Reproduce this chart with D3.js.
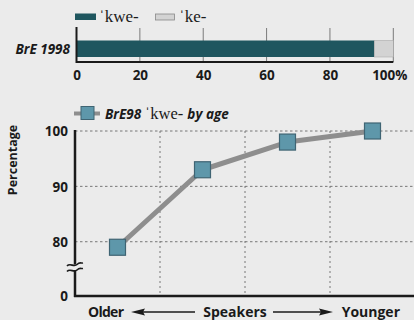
<!DOCTYPE html>
<html><head><meta charset="utf-8">
<script src="https://cdn.jsdelivr.net/npm/d3@7"></script>
<style>
html,body{margin:0;padding:0;background:#ebebeb;}
svg{display:block;}
.sans{font-family:"Open Sans","Noto Sans",sans-serif;font-weight:700;fill:#1a1a1a;}
.serif{font-family:"Liberation Serif","DejaVu Serif",serif;fill:#1a1a1a;}
</style></head>
<body>
<svg id="c" width="414" height="320"></svg>
<script>
// ---- data ----
const barCategories = ["BrE 1998"];
const kweShare = [94];
const keShare = [6];
const barTicks = [0, 20, 40, 60, 80, 100];

const ageGroups = ["Oldest", "Older", "Younger", "Youngest"];
const kweByAge = [79, 93, 98, 100];
const lineTicks = [0, 80, 90, 100];

const legendTop = ["ˈkwe-", "ˈke-"];
const lineSeriesName = "BrE98";

// ---- drawing ----
const svg = d3.select("#c");
const dark = "#1f565f", light = "#d3d3d3", ink = "#1a1a1a";

// Top legend
const lg = svg.append("g");
lg.append("rect").attr("x",75).attr("y",13.5).attr("width",21).attr("height",6.5).attr("fill",dark);
lg.append("text").attr("class","serif").attr("x",99).attr("y",22).attr("font-size",17).text(legendTop[0]);
lg.append("rect").attr("x",155.5).attr("y",14).attr("width",19).attr("height",6).attr("fill",light).attr("stroke","#888").attr("stroke-width",0.8);
lg.append("text").attr("class","serif").attr("x",179).attr("y",22).attr("font-size",17).text(legendTop[1]);

// Top bar chart
const xb = d3.scaleLinear().domain([0,100]).range([76.5,393.3]);
const yb = d3.scaleBand().domain(barCategories).range([40.5,57]).padding(0);
const bg = svg.append("g");
bg.selectAll(".grid").data(barTicks.slice(1)).join("line")
  .attr("x1",d=>xb(d)).attr("x2",d=>xb(d)).attr("y1",28).attr("y2",62)
  .attr("stroke","#7a7a7a").attr("stroke-width",1);
bg.selectAll(".kwe").data(barCategories).join("rect")
  .attr("x",xb(0)).attr("y",d=>yb(d)).attr("height",yb.bandwidth())
  .attr("width",(d,i)=>xb(kweShare[i])-xb(0)).attr("fill",dark);
bg.selectAll(".ke").data(barCategories).join("rect")
  .attr("x",(d,i)=>xb(kweShare[i])).attr("y",d=>yb(d)).attr("height",yb.bandwidth())
  .attr("width",(d,i)=>xb(kweShare[i]+keShare[i])-xb(kweShare[i])).attr("fill",light)
  .attr("stroke","#aaa").attr("stroke-width",0.6);
const xAxisTop = d3.axisBottom(xb).tickValues(barTicks).tickSize(0).tickPadding(0)
  .tickFormat(d=> d===100 ? "100%" : d);
const ga = bg.append("g").attr("transform","translate(0,62)").call(xAxisTop);
ga.select(".domain").remove();
ga.selectAll("text").attr("class","sans").attr("font-size",13.5).attr("dy",null).attr("y",18)
  .attr("dx",d=> d===100 ? -4 : 0);
bg.append("line").attr("x1",xb(0)).attr("x2",xb(100)).attr("y1",62).attr("y2",62).attr("stroke",ink).attr("stroke-width",2);
bg.append("line").attr("x1",xb(0)).attr("x2",xb(0)).attr("y1",27).attr("y2",63).attr("stroke",ink).attr("stroke-width",2);
bg.selectAll(".cat").data(barCategories).join("text").attr("class","sans")
  .attr("x",70).attr("y",d=>yb(d)+yb.bandwidth()/2+5).attr("text-anchor","end")
  .attr("font-size",13.5).attr("font-style","italic").text(d=>d);

// Line chart
const xl = d3.scaleBand().domain(ageGroups).range([75,415]);
const yl = d3.scaleLinear().domain([0,75,100]).range([296,269.4,131]);
const lc = svg.append("g");
// grid
lc.selectAll(".hg").data(lineTicks.filter(d=>d>0)).join("line")
  .attr("x1",75).attr("x2",414).attr("y1",d=>yl(d)).attr("y2",d=>yl(d))
  .attr("stroke","#777").attr("stroke-width",1).attr("stroke-dasharray","2.5,2.5");
lc.selectAll(".vg").data(ageGroups.slice(1)).join("line")
  .attr("x1",d=>xl(d)).attr("x2",d=>xl(d)).attr("y1",131).attr("y2",296)
  .attr("stroke","#777").attr("stroke-width",1).attr("stroke-dasharray","2,3");
// axes
const yAxis = d3.axisLeft(yl).tickValues(lineTicks).tickSize(0).tickPadding(0);
const gy = lc.append("g").attr("transform","translate(68,0)").call(yAxis);
gy.select(".domain").remove();
gy.selectAll("text").attr("class","sans").attr("font-size",13.5).attr("dy","0.36em").attr("x",0);
lc.append("line").attr("x1",75).attr("x2",75).attr("y1",130).attr("y2",297).attr("stroke",ink).attr("stroke-width",2.5);
lc.append("line").attr("x1",74).attr("x2",414).attr("y1",296).attr("y2",296).attr("stroke",ink).attr("stroke-width",2.5);
// axis break
const bk = lc.append("g");
bk.append("rect").attr("x",72).attr("y",264.5).attr("width",8).attr("height",5.5).attr("fill","#ebebeb");
[264.5,270].forEach(y=>{
  bk.append("path").attr("d",`M67,${y+1.5} C70,${y-2} 74,${y+3} 77,${y} S81,${y-1} 83,${y-1.5}`)
    .attr("fill","none").attr("stroke",ink).attr("stroke-width",1.6);
});
// line + markers
const pts = ageGroups.map((g,i)=>[xl(g)+xl.bandwidth()/2, yl(kweByAge[i])]);
lc.append("path").attr("d",d3.line()(pts)).attr("fill","none").attr("stroke","#8e8e8e")
  .attr("stroke-width",5).attr("stroke-linejoin","round");
lc.selectAll(".pt").data(pts).join("rect")
  .attr("x",d=>d[0]-8).attr("y",d=>d[1]-8).attr("width",16).attr("height",16)
  .attr("fill","#5e97aa").attr("stroke","#3f6473").attr("stroke-width",1.2);

// legend 2
const l2 = svg.append("g");
l2.append("line").attr("x1",74).attr("x2",100).attr("y1",113.5).attr("y2",113.5).attr("stroke","#8e8e8e").attr("stroke-width",4);
l2.append("rect").attr("x",81).attr("y",106.5).attr("width",13).attr("height",13).attr("fill","#5e97aa").attr("stroke","#3f6473").attr("stroke-width",1);
const t2 = l2.append("text").attr("x",105).attr("y",118.5).attr("font-size",13.5);
t2.append("tspan").attr("class","sans").attr("font-style","italic").text(lineSeriesName + " ");
t2.append("tspan").attr("class","serif").attr("font-size",16.5).text(legendTop[0] + " ");
t2.append("tspan").attr("class","sans").attr("font-style","italic").text("by age");

// y title
svg.append("text").attr("class","sans").attr("font-size",12.5)
  .attr("transform","translate(17,160) rotate(-90)").attr("text-anchor","middle").text("Percentage");

// x axis caption
const cap = svg.append("g");
cap.append("text").attr("class","sans").attr("font-size",14).attr("x",88).attr("y",317).attr("textLength",36).text("Older");
cap.append("text").attr("class","sans").attr("font-size",14).attr("x",235).attr("y",317).attr("text-anchor","middle").text("Speakers");
cap.append("text").attr("class","sans").attr("font-size",14).attr("x",400).attr("y",317).attr("text-anchor","end").text("Younger");
cap.append("line").attr("x1",140).attr("x2",195).attr("y1",312).attr("y2",312).attr("stroke",ink).attr("stroke-width",1.5);
cap.append("path").attr("d","M131,312 L145,308.5 L143,312 L145,315.5 Z").attr("fill",ink);
cap.append("line").attr("x1",273).attr("x2",325).attr("y1",312).attr("y2",312).attr("stroke",ink).attr("stroke-width",1.5);
cap.append("path").attr("d","M333,312 L319,308.5 L321,312 L319,315.5 Z").attr("fill",ink);
</script>
</body></html>
